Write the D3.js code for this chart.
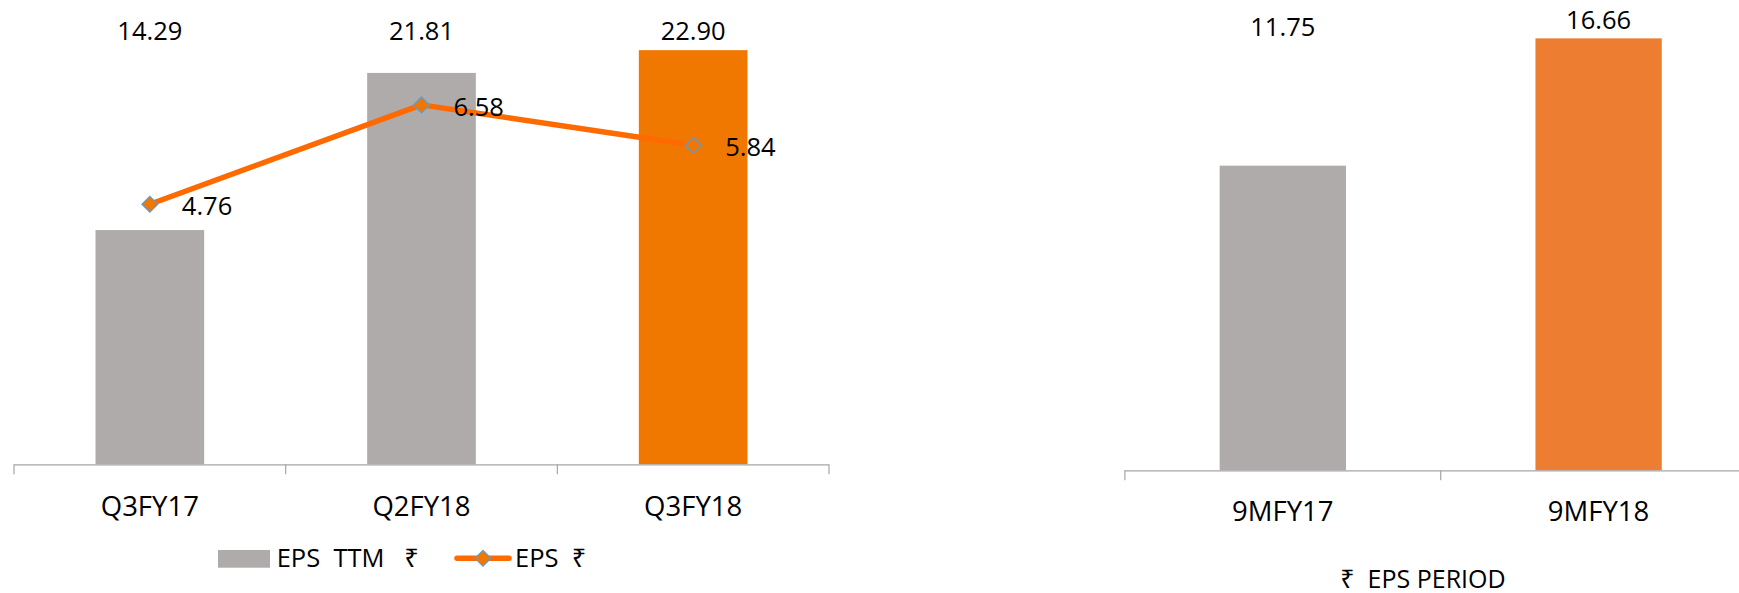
<!DOCTYPE html>
<html>
<head>
<meta charset="utf-8">
<script src="https://cdn.jsdelivr.net/npm/d3@7"></script>
<style>
  body { margin: 0; background: #fff; }
  svg text { font-family: "Open Sans", "Noto Sans", sans-serif; fill: #000; white-space: pre; }
</style>
</head>
<body>
<div id="chart"></div>
<script>
// quarterly chart data
var quarters = ["Q3FY17", "Q2FY18", "Q3FY18"];
var epsTTM = [14.29, 21.81, 22.90];
var epsQuarter = [4.76, 6.58, 5.84];

// nine month chart data
var periods = ["9MFY17", "9MFY18"];
var epsPeriod = [11.75, 16.66];

var GREY = "#AFABAB",
    ORANGE = "#F07800",
    LINE = "#FF6A00",
    ORANGE2 = "#ED7D31",
    AXIS = "#A6A6A6";

var svg = d3.select("#chart")
    .append("svg")
    .attr("width", 1739)
    .attr("height", 593);

// draws category axis with ticks at the band edges
function drawAxis(g, x, y0, xEnd, labelOffset) {
    var r = x.range();
    g.append("line")
        .attr("x1", r[0]).attr("x2", xEnd)
        .attr("y1", y0 + 0.5).attr("y2", y0 + 0.5)
        .attr("stroke", AXIS).attr("stroke-width", 1.2);
    d3.range(x.domain().length + 1).forEach(function (i) {
        var tx = r[0] + i * x.step();
        if (tx > 1739) return;
        g.append("line")
            .attr("x1", tx).attr("x2", tx)
            .attr("y1", y0).attr("y2", y0 + 10)
            .attr("stroke", AXIS).attr("stroke-width", 1.2);
    });
    g.selectAll(".cat")
        .data(x.domain())
        .enter()
        .append("text")
        .attr("x", function (d) { return x(d) + x.bandwidth() / 2; })
        .attr("y", y0 + labelOffset)
        .attr("text-anchor", "middle")
        .style("font-size", "27.5px")
        .text(function (d) { return d; });
}

// ---- left chart: EPS TTM bars + EPS line ----
var left = svg.append("g");
var baseL = 464.3;

var xL = d3.scaleBand()
    .domain(quarters)
    .range([14, 829])
    .paddingInner(0.6)
    .paddingOuter(0.3);

var yL = d3.scaleLinear()
    .domain([3.08, 25.3])
    .range([baseL, 0]);

var yL2 = d3.scaleLinear()
    .domain([0, 8.5])
    .range([baseL, 0]);

left.selectAll(".bar")
    .data(epsTTM)
    .enter()
    .append("rect")
    .attr("x", function (d, i) { return xL(quarters[i]); })
    .attr("y", function (d) { return yL(d); })
    .attr("width", xL.bandwidth())
    .attr("height", function (d) { return baseL - yL(d); })
    .attr("fill", function (d, i) { return i == quarters.length - 1 ? ORANGE : GREY; });

drawAxis(left, xL, baseL, 829, 51.4);

left.selectAll(".barlabel")
    .data(epsTTM)
    .enter()
    .append("text")
    .attr("x", function (d, i) { return xL(quarters[i]) + xL.bandwidth() / 2; })
    .attr("y", function (d) { return Math.min(40, yL(d) - 9); })
    .attr("text-anchor", "middle")
    .style("font-size", "25.5px")
    .text(function (d) { return d.toFixed(2); });

var cx = function (d, i) { return xL(quarters[i]) + xL.bandwidth() / 2; };

var line = d3.line()
    .x(cx)
    .y(function (d) { return yL2(d); });

left.append("path")
    .datum(epsQuarter)
    .attr("d", line)
    .attr("fill", "none")
    .attr("stroke", LINE)
    .attr("stroke-width", 5.5)
    .attr("stroke-linejoin", "round");

var diamond = d3.symbol().type(d3.symbolDiamond2).size(160);

left.selectAll(".marker")
    .data(epsQuarter)
    .enter()
    .append("path")
    .attr("d", diamond)
    .attr("transform", function (d, i) { return "translate(" + cx(d, i) + "," + yL2(d) + ")"; })
    .attr("fill", ORANGE)
    .attr("stroke", "#5B9BD5")
    .attr("stroke-width", 1.2);

left.selectAll(".linelabel")
    .data(epsQuarter)
    .enter()
    .append("text")
    .attr("x", function (d, i) { return cx(d, i) + 32; })
    .attr("y", function (d) { return yL2(d) + 10.7; })
    .style("font-size", "25.5px")
    .text(function (d) { return d.toFixed(2); });

// legend
var leg = left.append("g");
leg.append("rect")
    .attr("x", 218).attr("y", 550)
    .attr("width", 52).attr("height", 17.7)
    .attr("fill", GREY);
leg.append("text")
    .attr("x", 276.7).attr("y", 566.7)
    .style("font-size", "25.5px")
    .text("EPS  TTM   \u20B9");
leg.append("line")
    .attr("x1", 457).attr("x2", 509)
    .attr("y1", 558.3).attr("y2", 558.3)
    .attr("stroke", LINE).attr("stroke-width", 5.5)
    .attr("stroke-linecap", "round");
leg.append("path")
    .attr("d", diamond)
    .attr("transform", "translate(483,558.3)")
    .attr("fill", ORANGE)
    .attr("stroke", "#5B9BD5")
    .attr("stroke-width", 1.2);
leg.append("text")
    .attr("x", 515).attr("y", 566.7)
    .style("font-size", "25.5px")
    .text("EPS  \u20B9");

// ---- right chart: 9M EPS ----
var right = svg.append("g");
var baseR = 470.3;

var xR = d3.scaleBand()
    .domain(periods)
    .range([1124.9, 1756.5])
    .paddingInner(0.6)
    .paddingOuter(0.3);

var yR = d3.scaleLinear()
    .domain([0, 18.14])
    .range([baseR, 0]);

right.selectAll(".bar")
    .data(epsPeriod)
    .enter()
    .append("rect")
    .attr("x", function (d, i) { return xR(periods[i]); })
    .attr("y", function (d) { return yR(d); })
    .attr("width", xR.bandwidth())
    .attr("height", function (d) { return baseR - yR(d); })
    .attr("fill", function (d, i) { return i == periods.length - 1 ? ORANGE2 : GREY; });

drawAxis(right, xR, baseR, 1739, 50.7);

right.selectAll(".barlabel")
    .data(epsPeriod)
    .enter()
    .append("text")
    .attr("x", function (d, i) { return xR(periods[i]) + xR.bandwidth() / 2; })
    .attr("y", function (d) { return Math.min(35.7, yR(d) - 9); })
    .attr("text-anchor", "middle")
    .style("font-size", "25.5px")
    .text(function (d) { return d.toFixed(2); });

right.append("text")
    .attr("x", 1423).attr("y", 588.3)
    .attr("text-anchor", "middle")
    .style("font-size", "25px")
    .text("\u20B9  EPS PERIOD");
</script>
</body>
</html>
